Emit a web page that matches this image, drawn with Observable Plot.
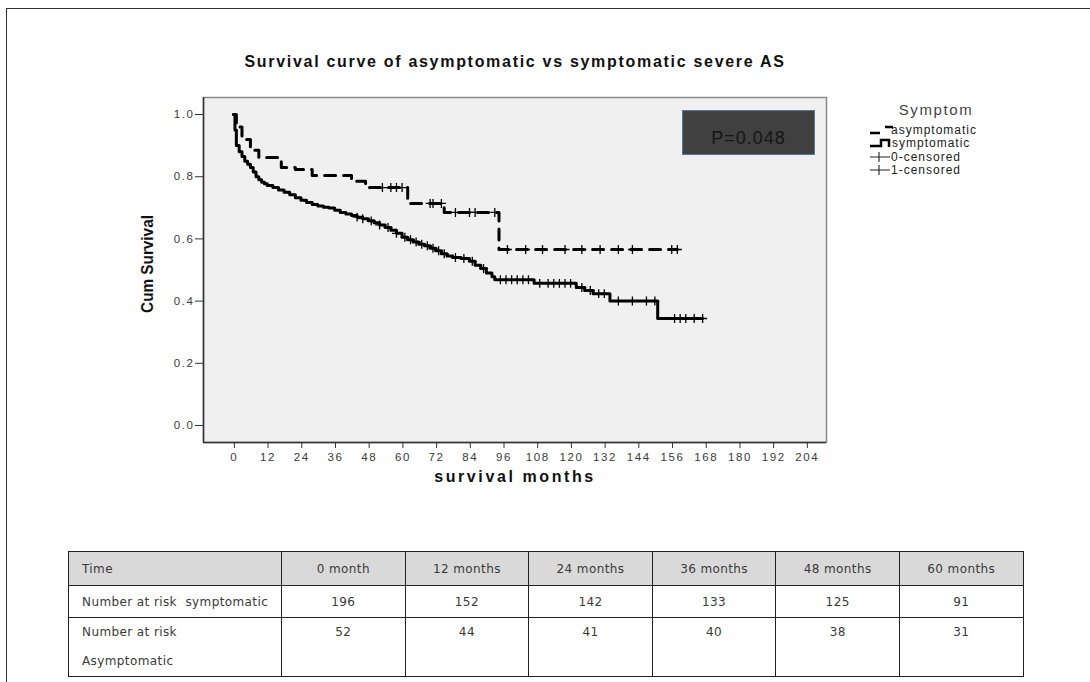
<!DOCTYPE html>
<html><head><meta charset="utf-8">
<script src="https://cdn.jsdelivr.net/npm/d3@7"></script>
<script src="https://cdn.jsdelivr.net/npm/@observablehq/plot@0.6"></script>
<style>
html,body{margin:0;padding:0;background:#fff;}
#page{position:relative;width:1090px;height:682px;overflow:hidden;font-family:"Liberation Sans",Arial,sans-serif;}
#frameTop{position:absolute;left:7px;top:8px;width:1090px;height:0;border-top:1.5px solid #333;}
#frameLeft{position:absolute;left:6px;top:8px;width:0;height:700px;border-left:1.5px solid #333;}
#title{position:absolute;left:0;width:1030px;top:53px;text-align:center;font-weight:bold;font-size:16px;letter-spacing:1.7px;color:#111;}
#chart{position:absolute;left:0;top:0;}
#chart svg text{font-size:11.5px !important;letter-spacing:1.6px;}
#ylab{position:absolute;left:148px;top:264px;transform:translate(-50%,-50%) rotate(-90deg) scaleX(0.9);font-family:"Liberation Sans Narrow","Arial Narrow","Liberation Sans",sans-serif;font-weight:bold;font-size:17px;color:#111;white-space:nowrap;}
#xlab{position:absolute;left:0;width:1030px;top:468px;text-align:center;font-weight:bold;font-size:16px;letter-spacing:2.6px;color:#111;}
#pbox{position:absolute;left:682px;top:110px;width:131px;height:43px;background:#404040;border:1px solid #56789c;color:#151515;font-size:18px;text-align:center;line-height:55px;overflow:hidden;letter-spacing:1px;}
#legend{position:absolute;left:860px;top:100px;}
#tbl{position:absolute;left:68px;top:551px;border-collapse:collapse;font-family:"DejaVu Sans",sans-serif;font-size:12px;letter-spacing:0.4px;color:#3a3a3a;}
#tbl td{border:1.5px solid #222;padding:0 0 0 13px;height:31px;}
#tbl td.num{text-align:center;padding:0;}
#tbl tr.head td{background:#d9d9d9;height:33px;}
#tbl tr.r3 td{vertical-align:top;height:56px;line-height:29px;}
</style></head><body><div id="page">
<div id="frameTop"></div><div id="frameLeft"></div>
<div id="title"></div>
<div id="chart"></div>
<div id="ylab"></div>
<div id="xlab"></div>
<div id="pbox"></div>
<svg id="legend" width="220" height="90"></svg>
<table id="tbl"></table>
</div>
<script>
// ---- data ----
const titleText = "Survival curve of asymptomatic vs symptomatic severe AS";
const xLabel = "survival months";
const yLabel = "Cum Survival";
const pText = "P=0.048";
const legendTitle = "Symptom";
const legendLabels = ["asymptomatic", "symptomatic", "0-censored", "1-censored"];
const xTicks = [0, 12, 24, 36, 48, 60, 72, 84, 96, 108, 120, 132, 144, 156, 168, 180, 192, 204];
const yTicks = [0, 0.2, 0.4, 0.6, 0.8, 1.0];
const xDomain = [-10.7, 211.1];
const yDomain = [-0.0547, 1.0547];

// symptomatic KM steps (event times, survival after)
const symTime = [0, 0.5, 1, 2, 3, 4, 5, 6, 7, 8, 9, 10, 11, 12, 14, 16, 18, 20, 22, 24, 26, 28, 30, 32, 34, 36, 38, 40, 42, 44, 46, 48, 50, 52, 54, 56, 58, 60, 62, 64, 66, 68, 70, 72, 74, 76, 78, 81, 84, 86, 88, 90, 92, 93, 107, 122, 125, 128, 134, 151];
const symSurv = [1.0, 0.95, 0.90, 0.88, 0.865, 0.85, 0.84, 0.83, 0.815, 0.80, 0.79, 0.782, 0.777, 0.772, 0.765, 0.757, 0.75, 0.742, 0.732, 0.724, 0.717, 0.711, 0.706, 0.702, 0.699, 0.692, 0.685, 0.68, 0.675, 0.67, 0.665, 0.658, 0.652, 0.645, 0.637, 0.628, 0.618, 0.605, 0.597, 0.59, 0.583, 0.578, 0.57, 0.562, 0.552, 0.545, 0.54, 0.537, 0.528, 0.515, 0.505, 0.49, 0.478, 0.469, 0.457, 0.444, 0.434, 0.424, 0.40, 0.344];
const symEnd = 167;
const symCensor = [44, 46, 49, 52, 55, 58, 61, 63, 65, 67, 69, 71, 73, 75, 79, 82, 85, 89, 95, 97, 99, 101, 103, 105, 109, 112, 114, 116, 118, 120, 124, 127, 130, 132, 137, 142, 147, 150, 157, 159, 161, 164, 167];

// asymptomatic KM steps
const asyTime = [0, 1, 3, 6, 9, 17, 22, 28, 42, 47, 62, 75, 94.5];
const asySurv = [1.0, 0.96, 0.92, 0.885, 0.862, 0.83, 0.823, 0.804, 0.785, 0.765, 0.714, 0.685, 0.566];
const asyEnd = 158;
const asyCensor = [53, 56, 58, 60, 70, 71, 74, 79, 84, 86, 93, 97.5, 104, 110, 118, 124, 130.5, 137, 142, 156, 158];

// number at risk table
const tableHeader = "Time";
const timeLabels = ["0 month", "12 months", "24 months", "36 months", "48 months", "60 months"];
const rowLabelSym = "Number at risk  symptomatic";
const rowLabelAsy = ["Number at risk", "Asymptomatic"];
const atRiskSym = [196, 152, 142, 133, 125, 91];
const atRiskAsy = [52, 44, 41, 40, 38, 31];

// ---- build ----
function stepLine(times, surv, end, group) {
  const pts = times.map((t, i) => ({t, s: surv[i], g: group}));
  pts.push({t: end, s: surv[surv.length - 1], g: group});
  return pts;
}
function survAt(times, surv, t) {
  let s = surv[0];
  for (let i = 0; i < times.length; i++) if (times[i] <= t) s = surv[i];
  return s;
}
const symLine = stepLine(symTime, symSurv, symEnd, "symptomatic");
const asyLine = stepLine(asyTime, asySurv, asyEnd, "asymptomatic");
const symCens = symCensor.map(t => ({t, s: survAt(symTime, symSurv, t)}));
const asyCens = asyCensor.map(t => ({t, s: survAt(asyTime, asySurv, t)}));

const chart = Plot.plot({
  width: 1090, height: 500,
  marginLeft: 203, marginRight: 264, marginTop: 97, marginBottom: 58,
  style: {fontFamily: "Liberation Sans, Arial, sans-serif", fontSize: "12px", color: "#3a3a3a", background: "transparent"},
  x: {domain: xDomain},
  y: {domain: yDomain},
  marks: [
    Plot.frame({fill: "#f0f0f0", stroke: "#8a8a8a", strokeWidth: 1.5}),
    Plot.ruleX([xDomain[0]], {stroke: "#333", strokeWidth: 1.5}),
    Plot.ruleY([yDomain[0]], {stroke: "#333", strokeWidth: 1.5}),
    Plot.axisY({ticks: yTicks, tickFormat: d3.format(".1f"), tickSize: 8, tickPadding: 1, label: null, stroke: "#333"}),
    Plot.axisX({ticks: xTicks, tickFormat: d3.format("d"), tickSize: 6, tickPadding: 4, label: null, stroke: "#333", dx: 0.8}),
    Plot.line(asyLine, {x: "t", y: "s", curve: "step-after", stroke: "#000", strokeWidth: 3, strokeDasharray: "11,8"}),
    Plot.line(symLine, {x: "t", y: "s", curve: "step-after", stroke: "#000", strokeWidth: 3}),
    Plot.dot(asyCens, {x: "t", y: "s", symbol: "plus", r: 3, stroke: "#000", strokeWidth: 1.3}),
    Plot.dot(symCens, {x: "t", y: "s", symbol: "plus", r: 3, stroke: "#000", strokeWidth: 1.3})
  ]
});
document.getElementById("chart").appendChild(chart);

document.getElementById("title").textContent = titleText;
document.getElementById("xlab").textContent = xLabel;
document.getElementById("ylab").textContent = yLabel;
document.getElementById("pbox").textContent = pText;

// legend
const lg = d3.select("#legend");
lg.append("text").attr("x", 76).attr("y", 15).attr("text-anchor", "middle")
  .attr("font-size", 15).attr("letter-spacing", 1.6).attr("fill", "#444").text(legendTitle);
const rowsY = [30, 43, 57, 70];
// asymptomatic dashed symbol
lg.append("path").attr("d", `M10,${rowsY[0]+3}H20 M25,${rowsY[0]-3}H33`).attr("stroke", "#000").attr("stroke-width", 2.5).attr("fill", "none");
// symptomatic step symbol
lg.append("path").attr("d", `M10,${rowsY[1]+3}H21V${rowsY[1]-3}H29V${rowsY[1]+4}`).attr("stroke", "#000").attr("stroke-width", 2.5).attr("fill", "none");
// censored symbols
[2, 3].forEach(i => {
  lg.append("path").attr("d", `M10,${rowsY[i]}H30 M19,${rowsY[i]-5}V${rowsY[i]+5}`).attr("stroke", "#222").attr("stroke-width", 1.1).attr("fill", "none");
});
legendLabels.forEach((l, i) => {
  lg.append("text").attr("x", i === 1 ? 32 : 31).attr("y", rowsY[i] + 4).attr("font-size", 12)
    .attr("letter-spacing", 1.0).attr("fill", "#222").text(l);
});

// table
const tbl = d3.select("#tbl");
const colW = [213].concat(timeLabels.map(() => 123.6));
const cg = tbl.append("colgroup");
colW.forEach(w => cg.append("col").style("width", w + "px"));
const h = tbl.append("tr").attr("class", "head");
h.append("td").text(tableHeader);
timeLabels.forEach(t => h.append("td").attr("class", "num").text(t));
const r2 = tbl.append("tr");
r2.append("td").style("white-space", "pre").text(rowLabelSym);
atRiskSym.forEach(v => r2.append("td").attr("class", "num").text(v));
const r3 = tbl.append("tr").attr("class", "r3");
r3.append("td").html(rowLabelAsy.join("<br>"));
atRiskAsy.forEach(v => r3.append("td").attr("class", "num").text(v));
</script>
</body></html>
